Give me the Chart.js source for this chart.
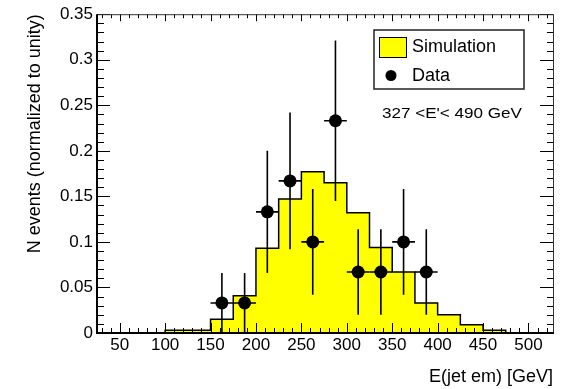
<!DOCTYPE html>
<html>
<head>
<meta charset="utf-8">
<script src="https://cdn.jsdelivr.net/npm/chart.js"></script>
<style>
  html, body { margin: 0; padding: 0; background: #fff; }
  #wrap { width: 564px; height: 389px; }
</style>
</head>
<body>
<div id="wrap"><canvas id="myChart" width="564" height="389"></canvas></div>
<script>
// simulation histogram: lower bin edges (width 25 GeV) and normalised contents
const simBinLow = [25, 50, 75, 100, 125, 150, 175, 200, 225, 250, 275, 300, 325, 350, 375, 400, 425, 450, 475, 500];
const simValues = [0, 0, 0, 0.003, 0.003, 0.015, 0.041, 0.093, 0.147, 0.177, 0.165, 0.132, 0.094, 0.067, 0.033, 0.020, 0.009, 0.003, 0, 0];
const binWidth = 25;

// data points (bin centres) with errors
const dataX = [162.5, 187.5, 212.5, 237.5, 262.5, 287.5, 312.5, 337.5, 362.5, 387.5];
const dataY = [0.033, 0.033, 0.133, 0.167, 0.1, 0.233, 0.067, 0.067, 0.1, 0.067];
const dataErrY = [0.033, 0.033, 0.067, 0.075, 0.058, 0.088, 0.047, 0.047, 0.058, 0.047];

const xTicks = [50, 100, 150, 200, 250, 300, 350, 400, 450, 500];
const yTicks = [0, 0.05, 0.1, 0.15, 0.2, 0.25, 0.3, 0.35];

const FONT = 'Liberation Sans, Arial, Helvetica, sans-serif';

const simPoints = simBinLow.map((x, i) => ({ x: x, y: simValues[i] }));
simPoints.push({ x: simBinLow[simBinLow.length - 1] + binWidth, y: simValues[simValues.length - 1] });
const dataPoints = dataX.map((x, i) => ({ x: x, y: dataY[i] }));

// error bars on the data set
const errorBars = {
    id: 'errorBars',
    afterDatasetsDraw(chart) {
        const ctx = chart.ctx;
        const xs = chart.scales.x, ys = chart.scales.y;
        ctx.save();
        ctx.strokeStyle = '#000';
        ctx.lineWidth = 1.6;
        dataX.forEach((x, i) => {
            const px = xs.getPixelForValue(x);
            const py = ys.getPixelForValue(dataY[i]);
            ctx.beginPath();
            ctx.moveTo(px, ys.getPixelForValue(dataY[i] - dataErrY[i]));
            ctx.lineTo(px, ys.getPixelForValue(dataY[i] + dataErrY[i]));
            ctx.moveTo(xs.getPixelForValue(x - binWidth / 2), py);
            ctx.lineTo(xs.getPixelForValue(x + binWidth / 2), py);
            ctx.stroke();
        });
        ctx.restore();
    }
};

// ROOT style frame with ticks on all four sides
const frameTicks = {
    id: 'frameTicks',
    afterDatasetsDraw(chart) {
        const ctx = chart.ctx;
        const a = chart.chartArea;
        const xs = chart.scales.x, ys = chart.scales.y;
        ctx.save();
        ctx.strokeStyle = '#000';
        ctx.lineWidth = 1;
        ctx.beginPath();
        for (let v = 30; v <= 520; v += 10) {
            const px = Math.round(xs.getPixelForValue(v)) + 0.5;
            const major = v % 50 === 0;
            ctx.moveTo(px, a.bottom);
            ctx.lineTo(px, a.bottom - (major ? 10 : 5));
            ctx.moveTo(px, a.top);
            ctx.lineTo(px, a.top + (major ? 7 : 4));
        }
        for (let k = 1; k <= 35; k++) {
            const py = Math.round(ys.getPixelForValue(k / 100)) + 0.5;
            const major = k % 5 === 0;
            ctx.moveTo(a.left, py);
            ctx.lineTo(a.left + (major ? 13 : 7), py);
            ctx.moveTo(a.right, py);
            ctx.lineTo(a.right - (major ? 13 : 6), py);
        }
        ctx.stroke();
        ctx.strokeStyle = '#333';
        ctx.strokeRect(a.left + 0.5, a.top + 0.5, a.right - a.left, a.bottom - a.top);
        ctx.strokeStyle = '#000';
        ctx.lineWidth = 2;
        ctx.beginPath();
        ctx.moveTo(a.left, a.top);
        ctx.lineTo(a.left, a.bottom);
        ctx.lineTo(a.right + 1, a.bottom);
        ctx.stroke();
        ctx.restore();
    }
};

// legend box and energy range label inside the plot
const boxLegend = {
    id: 'boxLegend',
    afterDraw(chart) {
        const ctx = chart.ctx;
        ctx.save();
        ctx.fillStyle = '#fff';
        ctx.fillRect(374, 30, 150, 59);
        ctx.strokeStyle = '#222';
        ctx.lineWidth = 1.5;
        ctx.strokeRect(374, 30, 150, 59);

        ctx.fillStyle = '#ffff00';
        ctx.fillRect(379, 37, 27, 20);
        ctx.lineWidth = 1;
        ctx.strokeStyle = '#000';
        ctx.strokeRect(379.5, 37.5, 27, 20);

        ctx.fillStyle = '#000';
        ctx.beginPath();
        ctx.arc(391, 75.5, 5.5, 0, Math.PI * 2);
        ctx.fill();

        ctx.font = '18px ' + FONT;
        ctx.textBaseline = 'middle';
        ctx.textAlign = 'left';
        ctx.fillText(chart.data.datasets[0].label, 412, 47.5);
        ctx.fillText(chart.data.datasets[1].label, 412, 76);

        // the range label is drawn wide in the original, stretch it a little
        const label = "327 <E'< 490 GeV";
        ctx.font = '15px ' + FONT;
        const w = ctx.measureText(label).width;
        ctx.translate(382, 114);
        ctx.scale(140 / w, 1);
        ctx.fillText(label, 0, 0);
        ctx.restore();
    }
};

const ctx = document.getElementById('myChart');
const chart = new Chart(ctx, {
    type: 'line',
    data: {
        datasets: [{
            label: 'Simulation',
            data: simPoints,
            stepped: 'before',
            borderColor: '#000',
            borderWidth: 1.5,
            backgroundColor: '#ffff00',
            fill: 'origin',
            pointRadius: 0,
            order: 2
        }, {
            label: 'Data',
            type: 'scatter',
            data: dataPoints,
            showLine: false,
            pointRadius: 6.5,
            pointBackgroundColor: '#000',
            pointBorderColor: '#000',
            borderWidth: 0,
            order: 1
        }]
    },
    options: {
        responsive: false,
        animation: false,
        events: [],
        layout: { padding: { top: 13, right: 11, left: 0, bottom: 0 } },
        plugins: {
            legend: { display: false },
            tooltip: { enabled: false }
        },
        scales: {
            x: {
                type: 'linear',
                min: 25,
                max: 527,
                afterBuildTicks: (s) => { s.ticks = xTicks.map(v => ({ value: v })); },
                afterFit: (s) => { s.height = 56; },
                grid: { display: false, drawTicks: false },
                border: { display: false },
                ticks: {
                    padding: 2,
                    maxRotation: 0,
                    autoSkip: false,
                    color: '#000',
                    font: { family: FONT, size: 17 },
                    callback: (v) => String(v)
                },
                title: {
                    display: true,
                    text: 'E(jet em) [GeV]',
                    align: 'end',
                    color: '#000',
                    font: { family: FONT, size: 18 },
                    padding: { top: 0, bottom: 1 }
                }
            },
            y: {
                min: 0,
                max: 0.35,
                afterBuildTicks: (s) => { s.ticks = yTicks.map(v => ({ value: v })); },
                afterFit: (s) => { s.width = 97; },
                grid: { display: false, drawTicks: false },
                border: { display: false },
                ticks: {
                    padding: 4,
                    autoSkip: false,
                    color: '#000',
                    font: { family: FONT, size: 17 },
                    callback: (v) => String(Number(v.toFixed(2)))
                },
                title: {
                    display: true,
                    text: 'N events (normalized to unity)',
                    align: 'end',
                    color: '#000',
                    font: { family: FONT, size: 18 },
                    padding: { top: 24, bottom: 0 }
                }
            }
        }
    },
    plugins: [errorBars, frameTicks, boxLegend]
});
</script>
</body>
</html>
